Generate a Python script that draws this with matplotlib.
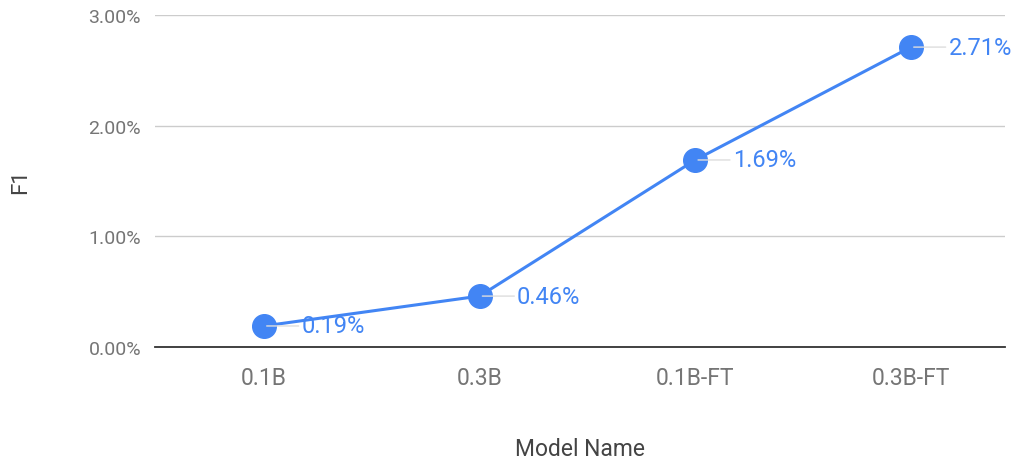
import matplotlib.pyplot as plt

plt.rcParams['font.family'] = ['Roboto', 'DejaVu Sans']

models = ['0.1B', '0.3B', '0.1B-FT', '0.3B-FT']
f1 = [0.19, 0.46, 1.69, 2.71]
yticks = [0.0, 1.0, 2.0, 3.0]

blue = '#4285f4'
fig = plt.figure(figsize=(10.21, 4.6), dpi=100)
ax = fig.add_axes([0.1518, 0.2435, 0.8325, 0.7217])

x = list(range(len(models)))
ax.plot(x, f1, color=blue, lw=2.2, marker='o', ms=17, zorder=3)

for xi, v in zip(x, f1):
    ax.annotate(f'{v:.2f}%', xy=(xi, v), xytext=(27, 0), textcoords='offset points',
                ha='left', va='center', color=blue, fontsize=17,
                arrowprops=dict(arrowstyle='-', color='#dddddd', lw=1, shrinkA=0, shrinkB=2),
                zorder=4)

ax.set_xlim(-0.505, 3.436)
ax.set_ylim(0, 3.0)
ax.set_xticks(x)
ax.set_xticklabels(models)
ax.set_yticks(yticks)
ax.set_yticklabels([f'{t:.2f}%' for t in yticks])
ax.tick_params(axis='y', length=0, labelsize=14, colors='#757575', pad=10)
ax.tick_params(axis='x', length=0, labelsize=16.5, colors='#757575', pad=14)
ax.grid(axis='y', color='#cccccc', lw=1)
ax.set_axisbelow(True)
for s in ['top', 'right', 'left']:
    ax.spines[s].set_visible(False)
ax.spines['bottom'].set_color('#333333')
ax.spines['bottom'].set_linewidth(1.3)

ax.set_ylabel('F1', fontsize=16, color='#444444', va='center')
ax.yaxis.set_label_coords(-0.158, 0.5)
ax.set_xlabel('Model Name', fontsize=16.5, color='#444444', labelpad=34)

fig.savefig('out.png', dpi=100)
